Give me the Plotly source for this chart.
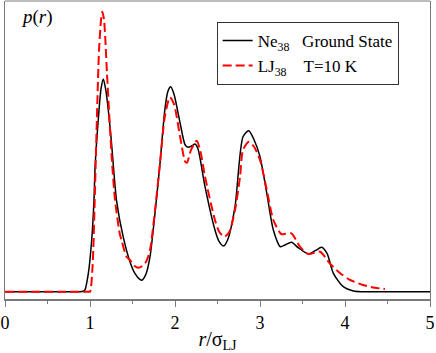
import plotly.graph_objects as go

# ---------------------------------------------------------------------------
# Data (r in units of sigma_LJ, p(r) arbitrary units)
# ---------------------------------------------------------------------------

ne_r = [0.0, 0.5, 0.88, 0.92, 0.94, 0.98, 1.02, 1.047, 1.06, 1.10, 1.13, 1.157,
        1.185, 1.215, 1.25, 1.314, 1.39, 1.47, 1.53, 1.59, 1.61, 1.66, 1.706,
        1.765, 1.824, 1.88, 1.915, 1.95, 1.99, 2.06, 2.12, 2.157, 2.20, 2.235,
        2.27, 2.353, 2.47, 2.52, 2.57, 2.62, 2.706, 2.80, 2.867, 2.93, 3.0,
        3.08, 3.157, 3.24, 3.30, 3.37, 3.45, 3.57, 3.65, 3.725, 3.79, 3.863,
        3.98, 4.1, 4.2, 5.0]
ne_p = [0.0, 0.0, 0.0, 0.005, 0.017, 0.18, 0.517, 0.917, 1.25, 1.75, 2.03, 2.127,
        2.02, 1.817, 1.517, 0.90, 0.55, 0.30, 0.18, 0.12, 0.115, 0.18, 0.35,
        0.787, 1.287, 1.817, 2.0, 2.05, 1.97, 1.687, 1.467, 1.444, 1.46, 1.477,
        1.43, 1.05, 0.617, 0.50, 0.457, 0.52, 0.85, 1.55, 1.61, 1.52, 1.35,
        0.984, 0.617, 0.45, 0.47, 0.494, 0.44, 0.377, 0.41, 0.444, 0.38, 0.184,
        0.05, 0.007, 0.0, 0.0]

lj_r = [0.0, 0.5, 0.98, 1.0, 1.03, 1.055, 1.08, 1.106, 1.13, 1.145, 1.165, 1.20,
        1.255, 1.294, 1.35, 1.37, 1.43, 1.47, 1.52, 1.57, 1.62, 1.66, 1.706,
        1.765, 1.824, 1.88, 1.94, 1.99, 2.06, 2.12, 2.14, 2.19, 2.255, 2.30,
        2.353, 2.47, 2.52, 2.58, 2.64, 2.706, 2.765, 2.80, 2.87, 2.93, 3.0,
        3.08, 3.157, 3.25, 3.30, 3.37, 3.47, 3.57, 3.706, 3.82, 3.94, 4.06,
        4.215, 4.35, 4.47]
lj_p = [0.0, 0.0, 0.0, 0.0, 0.25, 0.90, 1.70, 2.41, 2.72, 2.80, 2.72, 2.18,
        1.35, 0.92, 0.58, 0.517, 0.35, 0.317, 0.26, 0.24, 0.26, 0.30, 0.417,
        0.817, 1.287, 1.75, 1.944, 1.87, 1.55, 1.30, 1.29, 1.42, 1.51, 1.40,
        1.15, 0.717, 0.60, 0.55, 0.60, 0.817, 1.15, 1.417, 1.50, 1.45, 1.317,
        1.017, 0.717, 0.577, 0.58, 0.584, 0.45, 0.377, 0.40, 0.284, 0.187, 0.117,
        0.067, 0.04, 0.027]

x_ticks = [0, 1, 2, 3, 4, 5]

SERIF = "Liberation Serif, Times New Roman, serif"
FRAME = "#7a7a7a"
NBSP = "\u00a0"

fig = go.Figure()
fig.add_trace(go.Scatter(
    x=ne_r, y=ne_p, mode="lines",
    name="Ne<sub>38</sub>" + NBSP * 3 + "Ground State",
    line=dict(color="black", width=1.5, shape="spline", smoothing=0.7),
))
fig.add_trace(go.Scatter(
    x=lj_r, y=lj_p, mode="lines",
    name="LJ<sub>38</sub>" + NBSP * 4 + "T=10 K",
    line=dict(color="#ff0000", width=2, dash="9px,4px", shape="spline", smoothing=0.7),
))

# p(r) label sits inside the frame, top-left
fig.add_annotation(
    text="<i>p</i>(<i>r</i>)", xref="paper", yref="paper",
    x=0.033, y=0.99, xanchor="left", yanchor="top", showarrow=False,
    font=dict(family=SERIF, size=19, color="black"),
)
# top edge of the frame
fig.add_shape(type="line", xref="paper", yref="paper", x0=0, x1=1, y0=1, y1=1,
              line=dict(color=FRAME, width=1))

fig.update_layout(
    width=436, height=353,
    margin=dict(l=5, r=6, t=1, b=54),
    paper_bgcolor="white", plot_bgcolor="white",
    font=dict(family=SERIF, size=16, color="black"),
    showlegend=True,
    legend=dict(
        x=0.498, y=0.93, xanchor="left", yanchor="top",
        bgcolor="white", bordercolor="#333333", borderwidth=1,
        font=dict(family=SERIF, size=17, color="black"),
        tracegroupgap=0, itemwidth=30,
    ),
    xaxis=dict(
        range=[0, 5], tickvals=x_ticks, ticks="outside", ticklen=6, tickwidth=1,
        tickcolor=FRAME, showline=True, linecolor=FRAME, linewidth=2,
        showgrid=False, zeroline=False,
        minor=dict(dtick=0.5, ticks="outside", ticklen=3, tickcolor=FRAME, showgrid=False),
        tickfont=dict(family=SERIF, size=18),
        title=dict(text="<i>r</i>/σ<sub>LJ</sub>", font=dict(family=SERIF, size=20), standoff=2),
    ),
    yaxis=dict(
        range=[-0.073, 2.907], showticklabels=False, ticks="", showgrid=False,
        zeroline=False, showline=True, linecolor=FRAME, linewidth=1, mirror=True,
    ),
)

# the page body's default margin would push the figure off the window
fig.write_html("out.html", config={"displayModeBar": False},
               post_script="document.body.style.margin = '0';")
